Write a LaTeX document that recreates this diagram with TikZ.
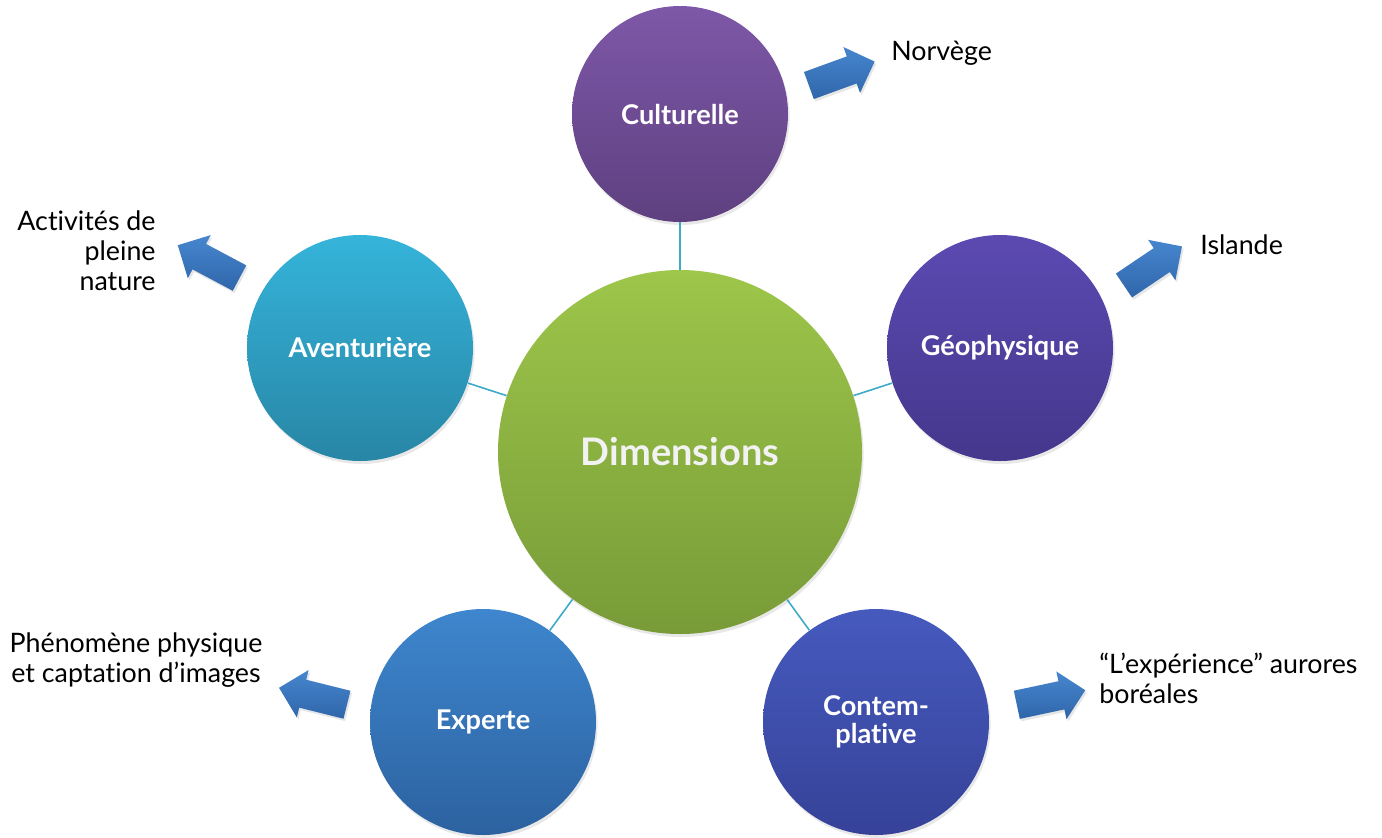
\documentclass[tikz,border=0pt]{standalone}
\usepackage{fontspec}
\setmainfont{Lato}[Ligatures=NoCommon]
\usepackage{tikz}
\usetikzlibrary{shapes, shapes.arrows, shadows, positioning}

\definecolor{linkblue}{HTML}{3FA9C8}
\definecolor{arrowtop}{HTML}{4686CE}
\definecolor{arrowbot}{HTML}{3066AA}

\begin{document}
\begin{tikzpicture}[x=0.5pt, y=-0.5pt]
  \tikzset{
    bubble/.style={
      circle,
      minimum size=113pt, % diameter of the small circles
      inner sep=0pt,
      text=white,
      font=\bfseries\fontsize{13.6}{13.8}\selectfont,
      align=center,
      drop shadow={opacity=0.18, shadow xshift=0.8pt, shadow yshift=-1.5pt},
    },
    link/.style={draw=linkblue, line width=0.8pt},
    bigarrow/.style={
      single arrow,
      single arrow head extend=5pt,
      minimum height=35pt, % length of the arrows
      inner xsep=0pt, inner ysep=7pt,
      top color=arrowtop, bottom color=arrowbot,
      drop shadow={opacity=0.2, shadow xshift=0.8pt, shadow yshift=-1.2pt},
    },
    note/.style={inner sep=0pt, text=black, font=\fontsize{13.4}{15}\selectfont},
  }
  \useasboundingbox (0,0) rectangle (1382,837);

  % circles
  \node[bubble, minimum size=182pt, top color={rgb,255:red,157;green,198;blue,74},
        bottom color={rgb,255:red,120;green,155;blue,56}, text={rgb,255:red,242;green,242;blue,242},
        font=\bfseries\fontsize{19}{20}\selectfont] (dim) at (680,452) {Dimensions};
  \node[bubble, minimum size=108pt, top color={rgb,255:red,126;green,88;blue,168},
        bottom color={rgb,255:red,94;green,64;blue,128}] (cult) at (680,114) {Culturelle};
  \node[bubble, top color={rgb,255:red,92;green,74;blue,178},
        bottom color={rgb,255:red,68;green,55;blue,140}] (geo) at (1000,348) {Géophysique};
  \node[bubble, top color={rgb,255:red,70;green,90;blue,190},
        bottom color={rgb,255:red,54;green,66;blue,152}] (cont) at (876,722) {Contem-\\plative};
  \node[bubble, top color={rgb,255:red,62;green,134;blue,206},
        bottom color={rgb,255:red,44;green,98;blue,160}] (exp) at (483,722) {Experte};
  \node[bubble, top color={rgb,255:red,53;green,180;blue,218},
        bottom color={rgb,255:red,40;green,134;blue,166}] (adv) at (360,348) {Aventurière};

  % links
  \draw[link] (dim) -- (cult);
  \draw[link] (dim) -- (geo);
  \draw[link] (dim) -- (cont);
  \draw[link] (dim) -- (exp);
  \draw[link] (dim) -- (adv);

  % arrows
  \node[bigarrow, rotate=20] (aCult) at (835,76) {};
  \node[bigarrow, rotate=34] (aGeo) at (1147,270) {};
  \node[bigarrow, rotate=12] (aCont) at (1044,699) {};
  \node[bigarrow, rotate=166] (aExp) at (320,698) {};
  \node[bigarrow, rotate=152] (aAdv) at (215,265) {};

  % texts
  \node[note, anchor=west] (tNor) at (891,53) {Norvège};
  \node[note, anchor=west] (tIsl) at (1200,245) {Islande};
  \node[note, anchor=west, align=left] (tAur) at (1099,678) {“L’expérience” aurores\\boréales};
  \node[note, align=center] (tPhe) at (136,660) {Phénomène physique\\et captation d’images};
  \node[note, anchor=east, align=right] (tAct) at (156,251) {Activités de\\pleine\\nature};
\end{tikzpicture}
\end{document}
